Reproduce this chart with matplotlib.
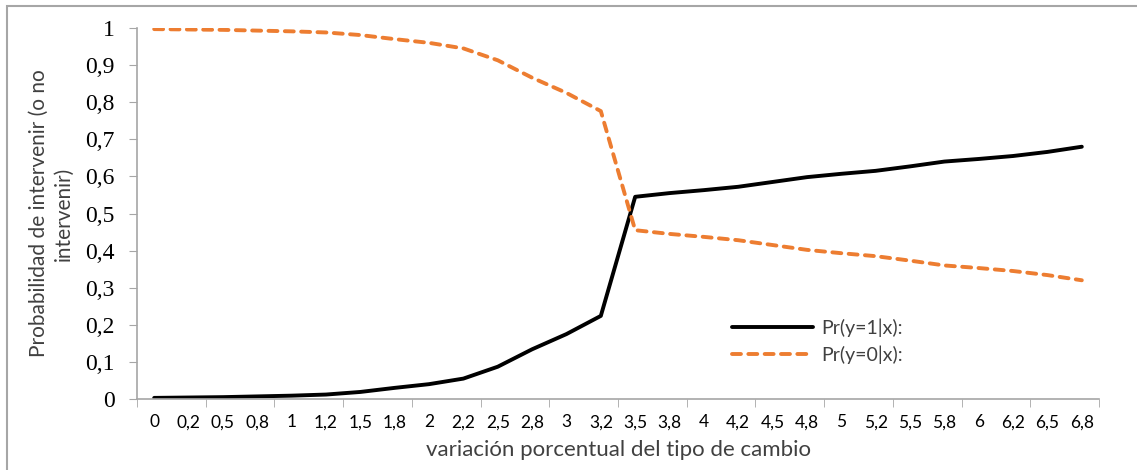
import matplotlib
matplotlib.use("Agg")
import matplotlib.pyplot as plt
from matplotlib.patches import Rectangle

# Data
categorias = ["0", "0,2", "0,5", "0,8", "1", "1,2", "1,5", "1,8", "2", "2,2",
              "2,5", "2,8", "3", "3,2", "3,5", "3,8", "4", "4,2", "4,5", "4,8",
              "5", "5,2", "5,5", "5,8", "6", "6,2", "6,5", "6,8"]
pr_y1 = [0.003, 0.004, 0.005, 0.007, 0.009, 0.012, 0.019, 0.030, 0.040, 0.055,
         0.087, 0.134, 0.175, 0.224, 0.545, 0.555, 0.563, 0.572, 0.585, 0.598,
         0.607, 0.615, 0.627, 0.640, 0.647, 0.655, 0.666, 0.680]
pr_y0 = [0.997, 0.996, 0.995, 0.993, 0.991, 0.988, 0.981, 0.970, 0.960, 0.945,
         0.913, 0.866, 0.825, 0.776, 0.455, 0.445, 0.437, 0.428, 0.415, 0.402,
         0.393, 0.385, 0.373, 0.360, 0.353, 0.345, 0.334, 0.320]
yticks = [0, 0.1, 0.2, 0.3, 0.4, 0.5, 0.6, 0.7, 0.8, 0.9, 1]
ytick_labels = ["0", "0,1", "0,2", "0,3", "0,4", "0,5", "0,6", "0,7", "0,8", "0,9", "1"]

grey = "#A6A6A6"
txt = "#404040"
sans = ["Lato", "DejaVu Sans"]

fig = plt.figure(figsize=(11.37, 4.70), dpi=100)
ax = fig.add_axes([137/1137, 1-399/470, (1099-137)/1137, (399-28)/470])

# chart area border (only top/left visible in the crop)
fig.patches.append(Rectangle((7/1137, -0.2), 1.2, 1-6/470+0.2, transform=fig.transFigure,
                             fill=False, edgecolor=grey, linewidth=1.5))

x = list(range(len(categorias)))
ax.plot(x, pr_y1, color="black", linewidth=2.8, label="Pr(y=1|x):",
        solid_capstyle="round", solid_joinstyle="round")
ax.plot(x, pr_y0, color="#ED7D31", linewidth=2.8, linestyle=(0, (2.3, 1.9)),
        dash_capstyle="round", label="Pr(y=0|x):")

ax.set_xlim(-0.5, len(categorias) - 0.5)
ax.set_ylim(0, 1)

ax.set_xticks(x)
ax.set_xticklabels(categorias, fontsize=12.5, family=sans, color="black")
ax.set_xticks([i - 0.5 for i in range(0, len(categorias) + 1, 2)], minor=True)
ax.tick_params(axis="x", which="major", length=0, pad=11)
ax.tick_params(axis="x", which="minor", length=6, color=grey, direction="out")

ax.set_yticks(yticks)
ax.set_yticklabels(ytick_labels, fontsize=17, family="Liberation Serif")
ax.tick_params(axis="y", length=6, color=grey, pad=10)

for s in ["top", "right"]:
    ax.spines[s].set_visible(False)
for s in ["left", "bottom"]:
    ax.spines[s].set_color(grey)
    ax.spines[s].set_linewidth(1.2)

ax.set_xlabel("variación porcentual del tipo de cambio", fontsize=16,
              family=sans, color=txt, labelpad=7)
ax.set_ylabel("Probabilidad de intervenir (o no\nintervenir)", fontsize=15,
              family=sans, color=txt, labelpad=8, linespacing=1.35)

leg = ax.legend(loc="upper left", bbox_to_anchor=(0.6, 0.265), frameon=False,
                prop={"family": sans, "size": 14}, handlelength=4.2,
                handletextpad=0.4, labelspacing=0.45)
for t in leg.get_texts():
    t.set_color(txt)

fig.savefig("out.png", dpi=100)
